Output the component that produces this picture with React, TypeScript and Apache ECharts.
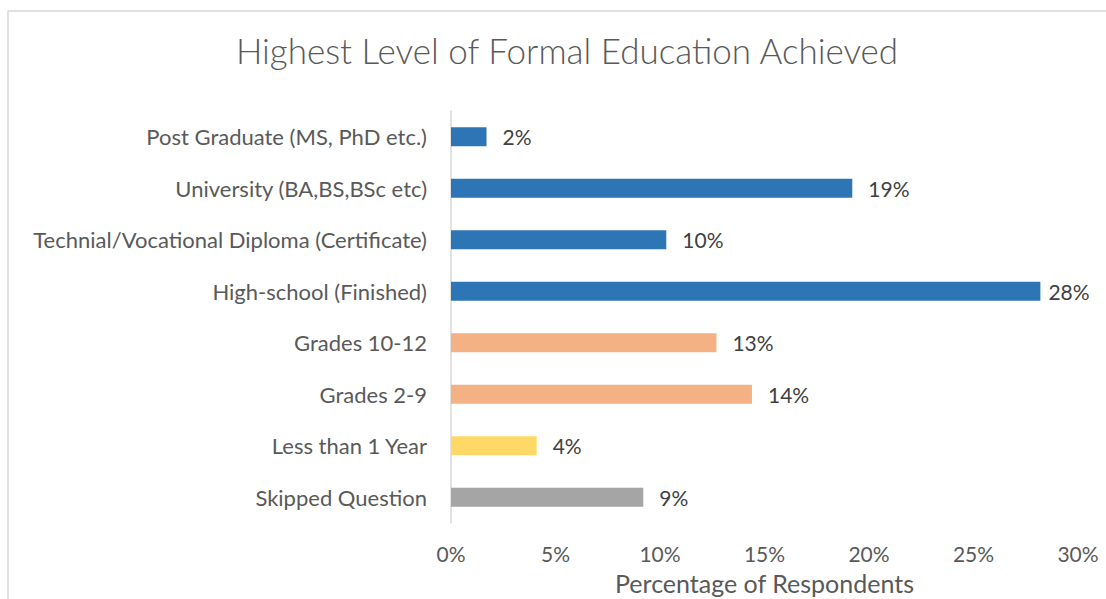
import React, { useEffect, useRef } from "react";
import * as echarts from "echarts";

const categories = [
  "Post Graduate (MS, PhD etc.)",
  "University (BA,BS,BSc etc)",
  "Technial/Vocational Diploma (Certificate)",
  "High-school (Finished)",
  "Grades 10-12",
  "Grades 2-9",
  "Less than 1 Year",
  "Skipped Question",
];
const values = [1.7, 19.2, 10.3, 28.2, 12.7, 14.4, 4.1, 9.2];
const groups = ["higher", "higher", "higher", "higher", "school", "school", "little", "skipped"];
const xTicks = [0, 5, 10, 15, 20, 25, 30];

const groupColors: Record<string, string> = {
  higher: "#2E75B6",
  school: "#F4B183",
  little: "#FFD966",
  skipped: "#A5A5A5",
};

const FONT = "Lato, 'Open Sans', sans-serif";

export default function App() {
  const ref = useRef<HTMLDivElement>(null);
  useEffect(() => {
    if (!ref.current) return;
    const chart = echarts.init(ref.current, undefined, { renderer: "svg" });
    chart.setOption({
      animation: false,
      backgroundColor: "#ffffff",
      textStyle: { fontFamily: FONT },
      title: {
        text: "Highest Level of Formal Education Achieved",
        left: 562,
        textAlign: "center",
        top: 27,
        textStyle: { fontFamily: FONT, fontSize: 35, fontWeight: 300, color: "#595959" },
      },
      graphic: [
        {
          type: "polyline",
          shape: { points: [[8, 599], [8, 11], [1106, 11]] },
          style: { fill: "none", stroke: "#d9d9d9", lineWidth: 1.5 },
          silent: true,
        },
      ],
      grid: {
        left: 451,
        right: 28,
        top: 111,
        bottom: 76,
        containLabel: false,
        outerBoundsMode: "none",
      },
      xAxis: {
        type: "value",
        min: xTicks[0],
        max: xTicks[xTicks.length - 1],
        interval: 5,
        axisLine: { show: false },
        axisTick: { show: false },
        splitLine: { show: false },
        axisLabel: {
          formatter: "{value}%",
          fontSize: 21,
          color: "#595959",
          margin: 20,
          fontFamily: FONT,
        },
        name: "Percentage of Respondents",
        nameLocation: "middle",
        nameGap: 47,
        nameTextStyle: { fontSize: 25, color: "#595959", fontFamily: FONT },
      },
      yAxis: {
        type: "category",
        data: categories,
        inverse: true,
        axisLine: { show: true, lineStyle: { color: "#d9d9d9", width: 1.5 } },
        axisTick: { show: false },
        axisLabel: { fontSize: 22, color: "#595959", margin: 24, fontFamily: FONT },
      },
      series: [
        {
          type: "bar",
          barWidth: 19,
          data: values.map((v, i) => ({
            value: v,
            itemStyle: { color: groupColors[groups[i]] },
            label: v > 27 ? { distance: 8 } : undefined,
          })),
          label: {
            show: true,
            position: "right",
            distance: 16,
            fontSize: 21,
            color: "#404040",
            fontFamily: FONT,
            formatter: (p: any) => Math.round(p.value) + "%",
          },
        },
      ],
    });
    return () => chart.dispose();
  }, []);
  return (
    <div
      ref={ref}
      style={{ position: "absolute", left: 0, top: 0, width: 1106, height: 599 }}
    />
  );
}
